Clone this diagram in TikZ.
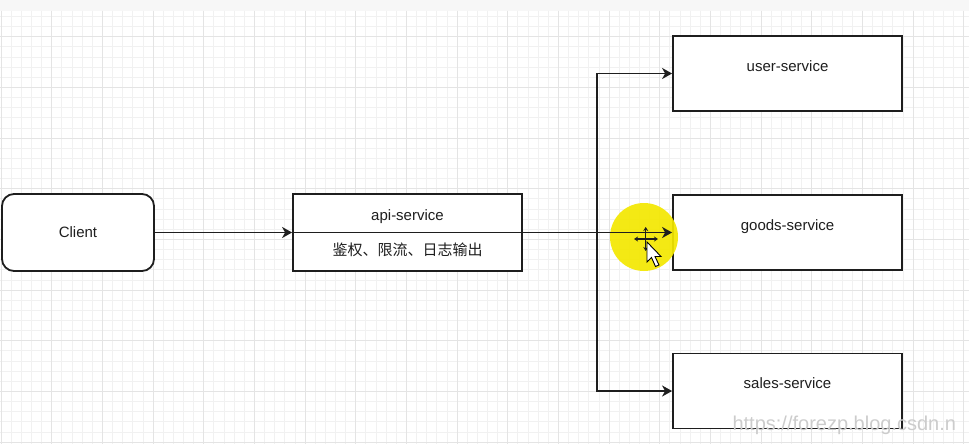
\documentclass[tikz,border=0pt]{standalone}
\usepackage{fontspec}
\setmainfont{Liberation Sans}
\newfontfamily\cjk{Noto Sans CJK SC}
\usepackage{tikz}
\usetikzlibrary{arrows.meta,positioning,shapes,fit,calc}
\tikzset{>={Stealth[length=10pt,width=11pt,inset=3pt]}}
\definecolor{gridmajor}{HTML}{E4E4E4}
\definecolor{gridminor}{HTML}{F1F1F1}
\definecolor{ink}{HTML}{1E1E1E}
\definecolor{hilite}{HTML}{F4E800}

\begin{document}
\begin{tikzpicture}[x=1pt, y=-1pt, font=\fontsize{15}{18}\selectfont, text=ink,
    box/.style={draw=ink, line width=1.8pt, fill=white, minimum width=229pt, minimum height=75pt},
    wire/.style={draw=ink, line width=1.9pt, ->}]
    \useasboundingbox (0,0) rectangle (969,444);
    \clip (0,0) rectangle (969,444);
    \fill[white] (0,0) rectangle (969,444);
    \fill[black!3] (0,0) rectangle (969,11);
    % grid
    \foreach \i in {0,...,95} {
        \draw[gridminor, line width=0.6pt] ({1+\i*10.133},11) -- ++(0,433);
    }
    \foreach \j in {0,...,42} {
        \draw[gridminor, line width=0.6pt] (0,{16.4+\j*10.133}) -- ++(969,0);
    }
    \foreach \i in {0,...,19} {
        \draw[gridmajor, line width=0.9pt] ({1+\i*50.67},11) -- ++(0,433);
    }
    \foreach \j in {0,...,8} {
        \draw[gridmajor, line width=0.9pt] (0,{36.7+\j*50.67}) -- ++(969,0);
    }

    \node[box, rounded corners=12pt, minimum width=152pt, minimum height=77pt] (client) at (78,232.5) {};
    \node[anchor=base] (client-txt) at ($(client.center)+(0,5)$) {Client};

    \node[box, minimum height=77pt] (api) at (407.5,232.5) {};
    \node[anchor=base] (api-title) at ($(api.north)+(0,27)$) {api-service};
    \node[anchor=base, font=\cjk\fontsize{15}{18}\selectfont] (api-duty) at ($(api.north)+(0,62)$) {鉴权、限流、日志输出};

    \foreach[count=\k] \svc/\ypos in {user/73.5,goods/232.5,sales/391} {
        \node[box] (svc-\svc) at (787.5,\ypos) {};
        \node[anchor=base] (txt-\svc) at ($(svc-\svc.north)+(0,36)$) {\svc-service};
    }

    \fill[hilite, opacity=0.92] (644,237) circle (34);

    \coordinate (fork) at (597,232.5);
    \draw[wire] (client.east) -- (api.west);
    \draw[wire] (api.west) -- (svc-goods.west);
    \draw[wire] (fork) |- (svc-user.west);
    \draw[wire] (fork) |- (svc-sales.west);

    % mouse cursor
    \draw[ink, line width=1.2pt, {Stealth[length=4pt,width=5pt]}-{Stealth[length=4pt,width=5pt]}] (634,239) -- (658,239);
    \draw[ink, line width=1.2pt, {Stealth[length=4pt,width=5pt]}-{Stealth[length=4pt,width=5pt]}] (645.7,227) -- (645.7,251);
    \filldraw[fill=white, draw=black, line width=0.9pt] (647,242) -- (647,262) -- (651.5,257.5) -- (655.5,266.5) -- (659,265) -- (655,256.5) -- (661,256.5) -- cycle;

    \node[anchor=base west, text=black!20, font=\fontsize{20}{24}\selectfont] (mark) at (729,430.5) {https://forezp.blog.csdn.n};
\end{tikzpicture}
\end{document}
